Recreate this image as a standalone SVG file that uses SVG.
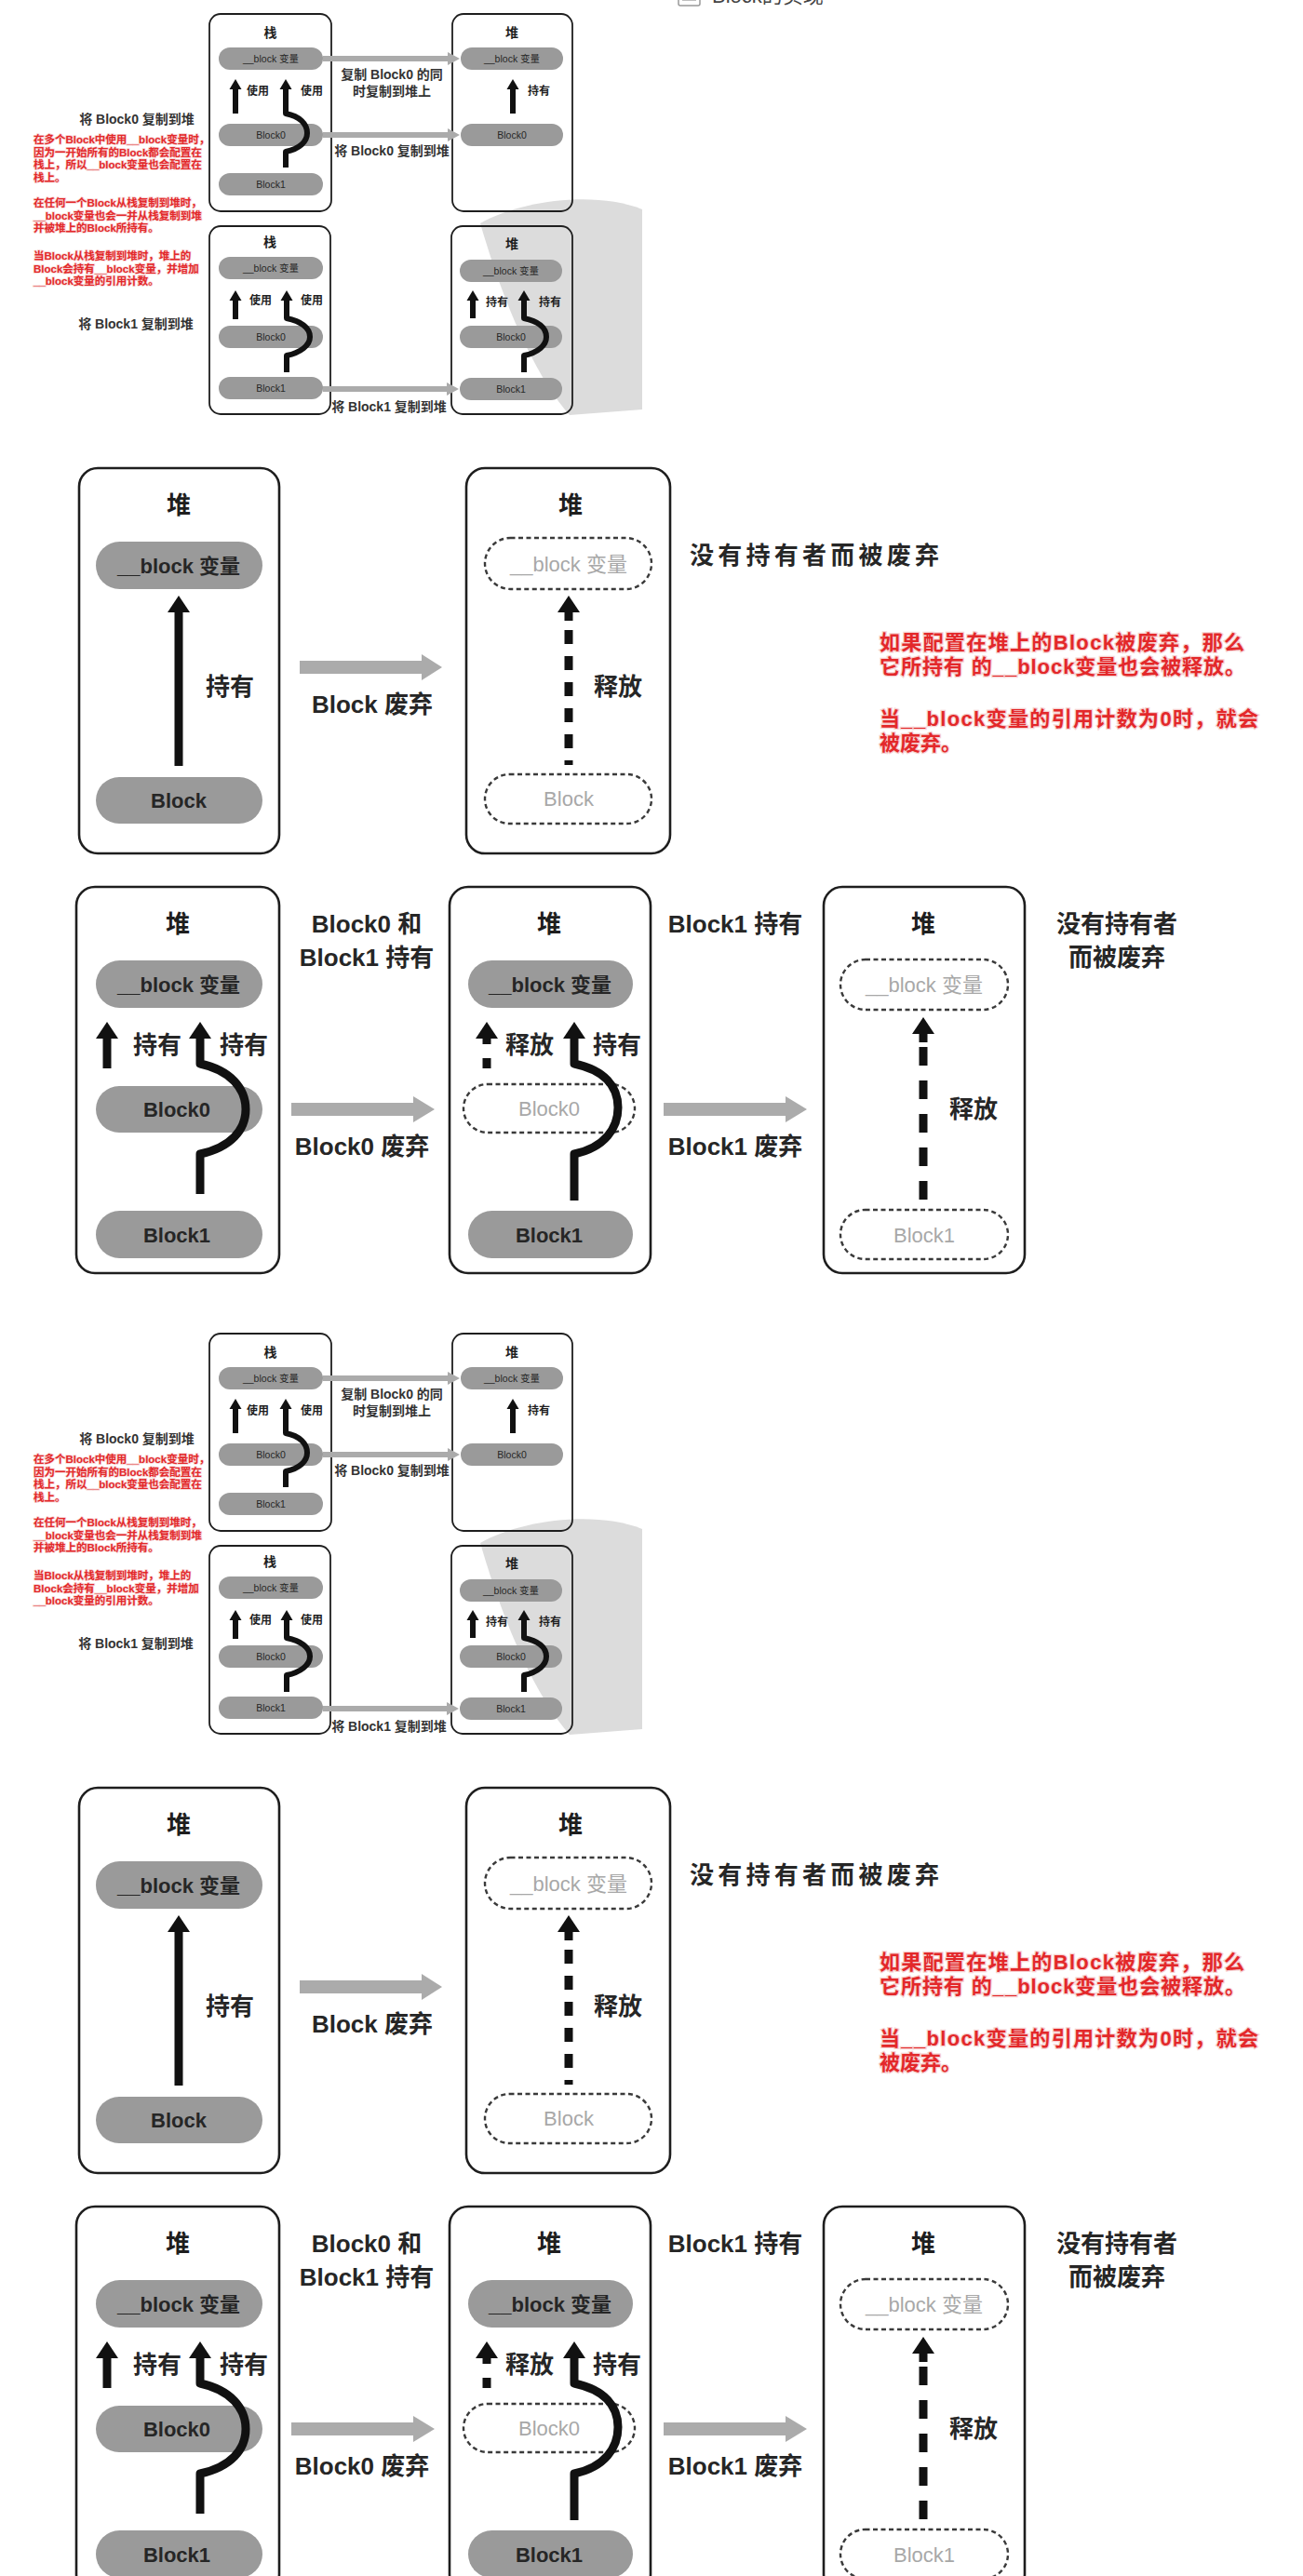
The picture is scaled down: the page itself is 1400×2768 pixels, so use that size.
<svg xmlns="http://www.w3.org/2000/svg" width="1400" height="2768" viewBox="0 0 1400 2768">
<style>
.bg{fill:#fff}
.box1{fill:none;stroke:#1e1e1e;stroke-width:1.8}
.box2{fill:none;stroke:#1e1e1e;stroke-width:2.6}
.pill{fill:#9a9a9a}
.dpill{fill:#fff;stroke:#3a3a3a;stroke-width:2.4;stroke-dasharray:5 3.5}
.t{font-family:"Liberation Sans","Noto Sans CJK SC",sans-serif;text-anchor:middle;dominant-baseline:central;font-weight:bold;fill:#1e1e1e}
.p1{font-size:10.5px;font-weight:normal;fill:#262626}
.h1{font-size:14px}
.l1{font-size:12px}
.c1{font-size:14px;fill:#333}
.h2{font-size:26px}
.p2{font-size:22px;fill:#262626}
.dp2{font-size:22px;font-weight:normal;fill:#a8a8a8}
.l2{font-size:26px;fill:#262626}
.red{font-family:"Liberation Sans","Noto Sans CJK SC",sans-serif;font-weight:bold;fill:#e3282a;stroke:#f6d2d2;paint-order:stroke;dominant-baseline:central}
.r1{font-size:11.5px;stroke-width:1.5}
.r2{font-size:22px;stroke-width:2.5}
.ar{fill:none;stroke:#111;stroke-linejoin:round}
.w1{stroke-width:6}
.w2{stroke-width:9}
.dsh{stroke-dasharray:15 13}
.dsh2{stroke-dasharray:20 16}
.ah{fill:#111}
.gray{fill:#ababab}
.wm{fill:#dcdcdc}
.head{font-family:"Liberation Sans","Noto Sans CJK SC",sans-serif;font-size:22px;fill:#444}
</style>
<rect class="bg" x="0" y="0" width="1400" height="2768"/>

<g id="page-heading">
<rect x="729" y="-14" width="23" height="20" rx="2" fill="#fff" stroke="#999" stroke-width="1.5"/>
<line x1="733" y1="0" x2="748" y2="0" stroke="#aaa" stroke-width="1.5"/>
<text class="head" x="765" y="3">Block的实现</text>
</g>

<!-- ================= SECTION 1 ================= -->
<g id="s1">
<path id="s1-watermark" class="wm" d="M516,240 C560,215 640,205 690,225 L690,440 L612,446 C580,410 545,340 516,240 Z"/>
<g id="s1-stackA">
<rect class="box1" x="225" y="15" width="131" height="212" rx="12"/>
<text class="t h1" x="290.5" y="35">栈</text>
<g id="s1-stackA-var"><rect class="pill" x="235" y="51" width="112" height="24" rx="12"/><text class="t p1" x="291" y="63">__block 变量</text></g>
<g id="s1-stackA-b0"><rect class="pill" x="235" y="133" width="112" height="24" rx="12"/><text class="t p1" x="291" y="145">Block0</text></g>
<g id="s1-stackA-b1"><rect class="pill" x="235" y="186" width="112" height="24" rx="12"/><text class="t p1" x="291" y="198">Block1</text></g>
</g>
<g id="s1-heapA">
<rect class="box1" x="486" y="15" width="129" height="212" rx="12"/>
<text class="t h1" x="550" y="35">堆</text>
<g id="s1-heapA-var"><rect class="pill" x="495" y="51" width="110" height="24" rx="12"/><text class="t p1" x="550" y="63">__block 变量</text></g>
<g id="s1-heapA-b0"><rect class="pill" x="495" y="133" width="110" height="24" rx="12"/><text class="t p1" x="550" y="145">Block0</text></g>
</g>
<g id="s1-stackB">
<rect class="box1" x="225" y="243" width="130" height="202" rx="12"/>
<text class="t h1" x="290" y="260">栈</text>
<g id="s1-stackB-var"><rect class="pill" x="235" y="276" width="112" height="24" rx="12"/><text class="t p1" x="291" y="288">__block 变量</text></g>
<g id="s1-stackB-b0"><rect class="pill" x="235" y="350" width="112" height="24" rx="12"/><text class="t p1" x="291" y="362">Block0</text></g>
<g id="s1-stackB-b1"><rect class="pill" x="235" y="405" width="112" height="24" rx="12"/><text class="t p1" x="291" y="417">Block1</text></g>
</g>
<g id="s1-heapB">
<rect class="box1" x="485" y="243" width="130" height="202" rx="12"/>
<text class="t h1" x="550" y="262">堆</text>
<g id="s1-heapB-var"><rect class="pill" x="494" y="279" width="110" height="24" rx="12"/><text class="t p1" x="549" y="291">__block 变量</text></g>
<g id="s1-heapB-b0"><rect class="pill" x="494" y="350" width="110" height="24" rx="12"/><text class="t p1" x="549" y="362">Block0</text></g>
<g id="s1-heapB-b1"><rect class="pill" x="494" y="406" width="110" height="24" rx="12"/><text class="t p1" x="549" y="418">Block1</text></g>
</g>
<g id="s1-connectors">
<line class="ar w1" x1="253" y1="122" x2="253" y2="94"/><polygon class="ah" points="246.5,96 253,85 259.5,96"/>
<path class="ar w1" d="M307,180 V163 C322,160 330,152 330,143 C330,133 322,125 307,122 V94"/><polygon class="ah" points="300.5,96 307,85 313.5,96"/>
<line class="ar w1" x1="551" y1="122" x2="551" y2="94"/><polygon class="ah" points="544.5,96 551,85 557.5,96"/>
<rect class="gray" x="347" y="60" width="135" height="6"/><polygon class="gray" points="481,56 494,63 481,70"/>
<rect class="gray" x="347" y="142" width="135" height="6"/><polygon class="gray" points="481,138 494,145 481,152"/>
<line class="ar w1" x1="253" y1="343" x2="253" y2="321"/><polygon class="ah" points="246.5,323 253,312 259.5,323"/>
<path class="ar w1" d="M308,400 V382 C323,379 333,371 333,362 C333,352 323,345 308,342 V321"/><polygon class="ah" points="301.5,323 308,312 314.5,323"/>
<line class="ar w1" x1="508" y1="342" x2="508" y2="321"/><polygon class="ah" points="501.5,323 508,312 514.5,323"/>
<path class="ar w1" d="M563,400 V382 C578,379 587,371 587,362 C587,352 578,345 563,342 V321"/><polygon class="ah" points="556.5,323 563,312 569.5,323"/>
<rect class="gray" x="347" y="415" width="134" height="6"/><polygon class="gray" points="480,411 493,418 480,425"/>
</g>
<g id="s1-labels">
<text class="t l1" x="277" y="98">使用</text>
<text class="t l1" x="335" y="98">使用</text>
<text class="t l1" x="579" y="98">持有</text>
<text class="t c1" x="421" y="80">复制 Block0 的同</text>
<text class="t c1" x="421" y="98">时复制到堆上</text>
<text class="t c1" x="421" y="162">将 Block0 复制到堆</text>
<text class="t l1" x="280" y="323">使用</text>
<text class="t l1" x="335" y="323">使用</text>
<text class="t l1" x="534" y="325">持有</text>
<text class="t l1" x="591" y="325">持有</text>
<text class="t c1" x="418" y="437">将 Block1 复制到堆</text>
<text class="t c1" x="147" y="128">将 Block0 复制到堆</text>
<text class="t c1" x="146" y="348">将 Block1 复制到堆</text>
</g>
<g id="s1-notes">
<text class="red r1" x="36" y="150">在多个Block中使用__block变量时，</text>
<text class="red r1" x="36" y="163.5">因为一开始所有的Block都会配置在</text>
<text class="red r1" x="36" y="177">栈上，所以__block变量也会配置在</text>
<text class="red r1" x="36" y="190.5">栈上。</text>
<text class="red r1" x="36" y="218">在任何一个Block从栈复制到堆时，</text>
<text class="red r1" x="36" y="231.5">__block变量也会一并从栈复制到堆</text>
<text class="red r1" x="36" y="245">并被堆上的Block所持有。</text>
<text class="red r1" x="36" y="275">当Block从栈复制到堆时，堆上的</text>
<text class="red r1" x="36" y="288.5">Block会持有__block变量，并增加</text>
<text class="red r1" x="36" y="302">__block变量的引用计数。</text>
</g>
</g>

<!-- ================= SECTION 2 ================= -->
<g id="s2">
<g id="s2-heapC">
<rect class="box2" x="85" y="503" width="215" height="414" rx="20"/>
<text class="t h2" x="192" y="543">堆</text>
<g id="s2-heapC-var"><rect class="pill" x="103" y="582" width="179" height="51" rx="25.5"/><text class="t p2" x="192" y="608">__block 变量</text></g>
<g id="s2-heapC-block"><rect class="pill" x="103" y="835" width="179" height="50" rx="25"/><text class="t p2" x="192" y="860">Block</text></g>
</g>
<g id="s2-heapD">
<rect class="box2" x="501" y="503" width="219" height="414" rx="20"/>
<text class="t h2" x="613" y="543">堆</text>
<g id="s2-heapD-var"><rect class="dpill" x="521" y="578" width="179" height="55" rx="27.5"/><text class="t dp2" x="611" y="606">__block 变量</text></g>
<g id="s2-heapD-block"><rect class="dpill" x="521" y="832" width="179" height="53" rx="26.5"/><text class="t dp2" x="611" y="858">Block</text></g>
</g>
<g id="s2-connectors">
<line class="ar w2" x1="192" y1="823" x2="192" y2="656"/><polygon class="ah" points="180,658 192,640 204,658"/>
<rect class="gray" x="322" y="710" width="133" height="14"/><polygon class="gray" points="453,703 475,717 453,731"/>
<line class="ar w2 dsh" x1="611" y1="677" x2="611" y2="822"/><rect class="ah" x="606.5" y="655" width="9" height="12"/><polygon class="ah" points="599,658 611,640 623,658"/>
</g>
<g id="s2-labels">
<text class="t l2" x="247" y="738">持有</text>
<text class="t l2" x="400" y="757">Block 废弃</text>
<text class="t l2" x="664" y="738">释放</text>
<text class="t l2" x="741" y="597" style="text-anchor:start" textLength="268">没有持有者而被废弃</text>
</g>
<g id="s2-notes">
<text class="red r2" x="945" y="690" textLength="392">如果配置在堆上的Block被废弃，那么</text>
<text class="red r2" x="945" y="716" textLength="393">它所持有 的__block变量也会被释放。</text>
<text class="red r2" x="945" y="772" textLength="407">当__block变量的引用计数为0时，就会</text>
<text class="red r2" x="945" y="798">被废弃。</text>
</g>
</g>

<!-- ================= SECTION 3 ================= -->
<g id="s3">
<g id="s3-heapE">
<rect class="box2" x="82" y="953" width="218" height="415" rx="20"/>
<text class="t h2" x="191" y="993">堆</text>
<g id="s3-heapE-var"><rect class="pill" x="103" y="1032" width="179" height="51" rx="25.5"/><text class="t p2" x="192" y="1058">__block 变量</text></g>
<g id="s3-heapE-b0"><rect class="pill" x="103" y="1167" width="179" height="50" rx="25"/><text class="t p2" x="190" y="1192">Block0</text></g>
<g id="s3-heapE-b1"><rect class="pill" x="103" y="1301" width="179" height="51" rx="25.5"/><text class="t p2" x="190" y="1327">Block1</text></g>
</g>
<g id="s3-heapF">
<rect class="box2" x="483" y="953" width="216" height="415" rx="20"/>
<text class="t h2" x="590" y="993">堆</text>
<g id="s3-heapF-var"><rect class="pill" x="503" y="1032" width="177" height="51" rx="25.5"/><text class="t p2" x="591" y="1058">__block 变量</text></g>
<g id="s3-heapF-b0"><rect class="dpill" x="498" y="1165" width="184" height="52" rx="26"/><text class="t dp2" x="590" y="1191">Block0</text></g>
<g id="s3-heapF-b1"><rect class="pill" x="503" y="1301" width="177" height="51" rx="25.5"/><text class="t p2" x="590" y="1327">Block1</text></g>
</g>
<g id="s3-heapG">
<rect class="box2" x="885" y="953" width="216" height="415" rx="20"/>
<text class="t h2" x="992" y="993">堆</text>
<g id="s3-heapG-var"><rect class="dpill" x="903" y="1031" width="180" height="54" rx="27"/><text class="t dp2" x="993" y="1058">__block 变量</text></g>
<g id="s3-heapG-b1"><rect class="dpill" x="903" y="1300" width="180" height="53" rx="26.5"/><text class="t dp2" x="993" y="1327">Block1</text></g>
</g>
<g id="s3-connectors">
<line class="ar w2" x1="115" y1="1148" x2="115" y2="1114"/><polygon class="ah" points="103,1116 115,1098 127,1116"/>
<path class="ar w2" d="M215,1283 V1240 C248,1233 264,1214 264,1192 C264,1170 248,1150 215,1143 V1114"/><polygon class="ah" points="203,1116 215,1098 227,1116"/>
<rect class="gray" x="313" y="1185" width="133" height="14"/><polygon class="gray" points="444,1178 467,1192 444,1206"/>
<rect class="ah" x="518.5" y="1114" width="9" height="8"/><rect class="ah" x="518.5" y="1137" width="9" height="11"/><polygon class="ah" points="511,1116 523,1098 535,1116"/>
<path class="ar w2" d="M617,1290 V1240 C650,1233 664,1212 664,1190 C664,1168 650,1150 617,1143 V1114"/><polygon class="ah" points="605,1116 617,1098 629,1116"/>
<rect class="gray" x="713" y="1185" width="133" height="14"/><polygon class="gray" points="844,1178 867,1192 844,1206"/>
<line class="ar w2 dsh2" x1="992" y1="1125" x2="992" y2="1290"/><rect class="ah" x="987.5" y="1108" width="9" height="12"/><polygon class="ah" points="980,1111 992,1093 1004,1111"/>
</g>
<g id="s3-labels">
<text class="t l2" x="169" y="1123">持有</text>
<text class="t l2" x="262" y="1123">持有</text>
<text class="t l2" x="394" y="993">Block0 和</text>
<text class="t l2" x="394" y="1029">Block1 持有</text>
<text class="t l2" x="389" y="1232">Block0 废弃</text>
<text class="t l2" x="569" y="1123">释放</text>
<text class="t l2" x="663" y="1123">持有</text>
<text class="t l2" x="790" y="993">Block1 持有</text>
<text class="t l2" x="790" y="1232">Block1 废弃</text>
<text class="t l2" x="1046" y="1192">释放</text>
<text class="t l2" x="1200" y="993">没有持有者</text>
<text class="t l2" x="1200" y="1029">而被废弃</text>
</g>
</g>

<!-- ================= SECTION 4 (repeat of 1) ================= -->
<g id="s4" transform="translate(0,1418)">
<path id="s4-watermark" class="wm" d="M516,240 C560,215 640,205 690,225 L690,440 L612,446 C580,410 545,340 516,240 Z"/>
<g id="s4-stackA">
<rect class="box1" x="225" y="15" width="131" height="212" rx="12"/>
<text class="t h1" x="290.5" y="35">栈</text>
<g id="s4-stackA-var"><rect class="pill" x="235" y="51" width="112" height="24" rx="12"/><text class="t p1" x="291" y="63">__block 变量</text></g>
<g id="s4-stackA-b0"><rect class="pill" x="235" y="133" width="112" height="24" rx="12"/><text class="t p1" x="291" y="145">Block0</text></g>
<g id="s4-stackA-b1"><rect class="pill" x="235" y="186" width="112" height="24" rx="12"/><text class="t p1" x="291" y="198">Block1</text></g>
</g>
<g id="s4-heapA">
<rect class="box1" x="486" y="15" width="129" height="212" rx="12"/>
<text class="t h1" x="550" y="35">堆</text>
<g id="s4-heapA-var"><rect class="pill" x="495" y="51" width="110" height="24" rx="12"/><text class="t p1" x="550" y="63">__block 变量</text></g>
<g id="s4-heapA-b0"><rect class="pill" x="495" y="133" width="110" height="24" rx="12"/><text class="t p1" x="550" y="145">Block0</text></g>
</g>
<g id="s4-stackB">
<rect class="box1" x="225" y="243" width="130" height="202" rx="12"/>
<text class="t h1" x="290" y="260">栈</text>
<g id="s4-stackB-var"><rect class="pill" x="235" y="276" width="112" height="24" rx="12"/><text class="t p1" x="291" y="288">__block 变量</text></g>
<g id="s4-stackB-b0"><rect class="pill" x="235" y="350" width="112" height="24" rx="12"/><text class="t p1" x="291" y="362">Block0</text></g>
<g id="s4-stackB-b1"><rect class="pill" x="235" y="405" width="112" height="24" rx="12"/><text class="t p1" x="291" y="417">Block1</text></g>
</g>
<g id="s4-heapB">
<rect class="box1" x="485" y="243" width="130" height="202" rx="12"/>
<text class="t h1" x="550" y="262">堆</text>
<g id="s4-heapB-var"><rect class="pill" x="494" y="279" width="110" height="24" rx="12"/><text class="t p1" x="549" y="291">__block 变量</text></g>
<g id="s4-heapB-b0"><rect class="pill" x="494" y="350" width="110" height="24" rx="12"/><text class="t p1" x="549" y="362">Block0</text></g>
<g id="s4-heapB-b1"><rect class="pill" x="494" y="406" width="110" height="24" rx="12"/><text class="t p1" x="549" y="418">Block1</text></g>
</g>
<g id="s4-connectors">
<line class="ar w1" x1="253" y1="122" x2="253" y2="94"/><polygon class="ah" points="246.5,96 253,85 259.5,96"/>
<path class="ar w1" d="M307,180 V163 C322,160 330,152 330,143 C330,133 322,125 307,122 V94"/><polygon class="ah" points="300.5,96 307,85 313.5,96"/>
<line class="ar w1" x1="551" y1="122" x2="551" y2="94"/><polygon class="ah" points="544.5,96 551,85 557.5,96"/>
<rect class="gray" x="347" y="60" width="135" height="6"/><polygon class="gray" points="481,56 494,63 481,70"/>
<rect class="gray" x="347" y="142" width="135" height="6"/><polygon class="gray" points="481,138 494,145 481,152"/>
<line class="ar w1" x1="253" y1="343" x2="253" y2="321"/><polygon class="ah" points="246.5,323 253,312 259.5,323"/>
<path class="ar w1" d="M308,400 V382 C323,379 333,371 333,362 C333,352 323,345 308,342 V321"/><polygon class="ah" points="301.5,323 308,312 314.5,323"/>
<line class="ar w1" x1="508" y1="342" x2="508" y2="321"/><polygon class="ah" points="501.5,323 508,312 514.5,323"/>
<path class="ar w1" d="M563,400 V382 C578,379 587,371 587,362 C587,352 578,345 563,342 V321"/><polygon class="ah" points="556.5,323 563,312 569.5,323"/>
<rect class="gray" x="347" y="415" width="134" height="6"/><polygon class="gray" points="480,411 493,418 480,425"/>
</g>
<g id="s4-labels">
<text class="t l1" x="277" y="98">使用</text>
<text class="t l1" x="335" y="98">使用</text>
<text class="t l1" x="579" y="98">持有</text>
<text class="t c1" x="421" y="80">复制 Block0 的同</text>
<text class="t c1" x="421" y="98">时复制到堆上</text>
<text class="t c1" x="421" y="162">将 Block0 复制到堆</text>
<text class="t l1" x="280" y="323">使用</text>
<text class="t l1" x="335" y="323">使用</text>
<text class="t l1" x="534" y="325">持有</text>
<text class="t l1" x="591" y="325">持有</text>
<text class="t c1" x="418" y="437">将 Block1 复制到堆</text>
<text class="t c1" x="147" y="128">将 Block0 复制到堆</text>
<text class="t c1" x="146" y="348">将 Block1 复制到堆</text>
</g>
<g id="s4-notes">
<text class="red r1" x="36" y="150">在多个Block中使用__block变量时，</text>
<text class="red r1" x="36" y="163.5">因为一开始所有的Block都会配置在</text>
<text class="red r1" x="36" y="177">栈上，所以__block变量也会配置在</text>
<text class="red r1" x="36" y="190.5">栈上。</text>
<text class="red r1" x="36" y="218">在任何一个Block从栈复制到堆时，</text>
<text class="red r1" x="36" y="231.5">__block变量也会一并从栈复制到堆</text>
<text class="red r1" x="36" y="245">并被堆上的Block所持有。</text>
<text class="red r1" x="36" y="275">当Block从栈复制到堆时，堆上的</text>
<text class="red r1" x="36" y="288.5">Block会持有__block变量，并增加</text>
<text class="red r1" x="36" y="302">__block变量的引用计数。</text>
</g>
</g>

<!-- ================= SECTION 5 (repeat of 2) ================= -->
<g id="s5" transform="translate(0,1418)">
<g id="s5-heapC">
<rect class="box2" x="85" y="503" width="215" height="414" rx="20"/>
<text class="t h2" x="192" y="543">堆</text>
<g id="s5-heapC-var"><rect class="pill" x="103" y="582" width="179" height="51" rx="25.5"/><text class="t p2" x="192" y="608">__block 变量</text></g>
<g id="s5-heapC-block"><rect class="pill" x="103" y="835" width="179" height="50" rx="25"/><text class="t p2" x="192" y="860">Block</text></g>
</g>
<g id="s5-heapD">
<rect class="box2" x="501" y="503" width="219" height="414" rx="20"/>
<text class="t h2" x="613" y="543">堆</text>
<g id="s5-heapD-var"><rect class="dpill" x="521" y="578" width="179" height="55" rx="27.5"/><text class="t dp2" x="611" y="606">__block 变量</text></g>
<g id="s5-heapD-block"><rect class="dpill" x="521" y="832" width="179" height="53" rx="26.5"/><text class="t dp2" x="611" y="858">Block</text></g>
</g>
<g id="s5-connectors">
<line class="ar w2" x1="192" y1="823" x2="192" y2="656"/><polygon class="ah" points="180,658 192,640 204,658"/>
<rect class="gray" x="322" y="710" width="133" height="14"/><polygon class="gray" points="453,703 475,717 453,731"/>
<line class="ar w2 dsh" x1="611" y1="677" x2="611" y2="822"/><rect class="ah" x="606.5" y="655" width="9" height="12"/><polygon class="ah" points="599,658 611,640 623,658"/>
</g>
<g id="s5-labels">
<text class="t l2" x="247" y="738">持有</text>
<text class="t l2" x="400" y="757">Block 废弃</text>
<text class="t l2" x="664" y="738">释放</text>
<text class="t l2" x="741" y="597" style="text-anchor:start" textLength="268">没有持有者而被废弃</text>
</g>
<g id="s5-notes">
<text class="red r2" x="945" y="690" textLength="392">如果配置在堆上的Block被废弃，那么</text>
<text class="red r2" x="945" y="716" textLength="393">它所持有 的__block变量也会被释放。</text>
<text class="red r2" x="945" y="772" textLength="407">当__block变量的引用计数为0时，就会</text>
<text class="red r2" x="945" y="798">被废弃。</text>
</g>
</g>

<!-- ================= SECTION 6 (repeat of 3) ================= -->
<g id="s6" transform="translate(0,1418)">
<g id="s6-heapE">
<rect class="box2" x="82" y="953" width="218" height="415" rx="20"/>
<text class="t h2" x="191" y="993">堆</text>
<g id="s6-heapE-var"><rect class="pill" x="103" y="1032" width="179" height="51" rx="25.5"/><text class="t p2" x="192" y="1058">__block 变量</text></g>
<g id="s6-heapE-b0"><rect class="pill" x="103" y="1167" width="179" height="50" rx="25"/><text class="t p2" x="190" y="1192">Block0</text></g>
<g id="s6-heapE-b1"><rect class="pill" x="103" y="1301" width="179" height="51" rx="25.5"/><text class="t p2" x="190" y="1327">Block1</text></g>
</g>
<g id="s6-heapF">
<rect class="box2" x="483" y="953" width="216" height="415" rx="20"/>
<text class="t h2" x="590" y="993">堆</text>
<g id="s6-heapF-var"><rect class="pill" x="503" y="1032" width="177" height="51" rx="25.5"/><text class="t p2" x="591" y="1058">__block 变量</text></g>
<g id="s6-heapF-b0"><rect class="dpill" x="498" y="1165" width="184" height="52" rx="26"/><text class="t dp2" x="590" y="1191">Block0</text></g>
<g id="s6-heapF-b1"><rect class="pill" x="503" y="1301" width="177" height="51" rx="25.5"/><text class="t p2" x="590" y="1327">Block1</text></g>
</g>
<g id="s6-heapG">
<rect class="box2" x="885" y="953" width="216" height="415" rx="20"/>
<text class="t h2" x="992" y="993">堆</text>
<g id="s6-heapG-var"><rect class="dpill" x="903" y="1031" width="180" height="54" rx="27"/><text class="t dp2" x="993" y="1058">__block 变量</text></g>
<g id="s6-heapG-b1"><rect class="dpill" x="903" y="1300" width="180" height="53" rx="26.5"/><text class="t dp2" x="993" y="1327">Block1</text></g>
</g>
<g id="s6-connectors">
<line class="ar w2" x1="115" y1="1148" x2="115" y2="1114"/><polygon class="ah" points="103,1116 115,1098 127,1116"/>
<path class="ar w2" d="M215,1283 V1240 C248,1233 264,1214 264,1192 C264,1170 248,1150 215,1143 V1114"/><polygon class="ah" points="203,1116 215,1098 227,1116"/>
<rect class="gray" x="313" y="1185" width="133" height="14"/><polygon class="gray" points="444,1178 467,1192 444,1206"/>
<rect class="ah" x="518.5" y="1114" width="9" height="8"/><rect class="ah" x="518.5" y="1137" width="9" height="11"/><polygon class="ah" points="511,1116 523,1098 535,1116"/>
<path class="ar w2" d="M617,1290 V1240 C650,1233 664,1212 664,1190 C664,1168 650,1150 617,1143 V1114"/><polygon class="ah" points="605,1116 617,1098 629,1116"/>
<rect class="gray" x="713" y="1185" width="133" height="14"/><polygon class="gray" points="844,1178 867,1192 844,1206"/>
<line class="ar w2 dsh2" x1="992" y1="1125" x2="992" y2="1290"/><rect class="ah" x="987.5" y="1108" width="9" height="12"/><polygon class="ah" points="980,1111 992,1093 1004,1111"/>
</g>
<g id="s6-labels">
<text class="t l2" x="169" y="1123">持有</text>
<text class="t l2" x="262" y="1123">持有</text>
<text class="t l2" x="394" y="993">Block0 和</text>
<text class="t l2" x="394" y="1029">Block1 持有</text>
<text class="t l2" x="389" y="1232">Block0 废弃</text>
<text class="t l2" x="569" y="1123">释放</text>
<text class="t l2" x="663" y="1123">持有</text>
<text class="t l2" x="790" y="993">Block1 持有</text>
<text class="t l2" x="790" y="1232">Block1 废弃</text>
<text class="t l2" x="1046" y="1192">释放</text>
<text class="t l2" x="1200" y="993">没有持有者</text>
<text class="t l2" x="1200" y="1029">而被废弃</text>
</g>
</g>
</svg>
